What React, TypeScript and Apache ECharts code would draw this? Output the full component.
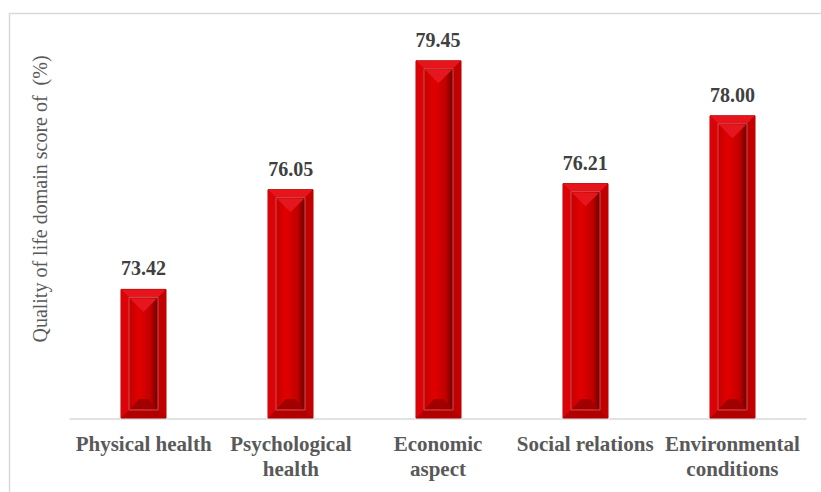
import React, { useEffect, useRef } from "react";
import * as echarts from "echarts";

const categories = [
  "Physical health",
  "Psychological\nhealth",
  "Economic\naspect",
  "Social relations",
  "Environmental\nconditions",
];
const scores = [73.42, 76.05, 79.45, 76.21, 78.0];
const yTitle = "Quality of life domain score of  (%)";
const yMin = 70;
const yMax = 80;

const BAR_W = 45;
const BEVEL = 8;

function renderBevelBar(params: any, api: any) {
  const idx = api.value(0);
  const val = api.value(1);
  const top = api.coord([idx, val]);
  const base = api.coord([idx, yMin]);
  const xc = top[0];
  const x0 = Math.round(xc - BAR_W / 2);
  const x1 = x0 + BAR_W;
  const yT = top[1];
  const yB = base[1] - 1;
  const b = BEVEL;
  const ix0 = x0 + b;
  const ix1 = x1 - b;
  const iyT = yT + b;
  const iyB = yB - b;
  const iw = ix1 - ix0;
  const children: any[] = [
    {
      type: "rect",
      shape: { x: x0, y: yT, width: BAR_W, height: yB - yT },
      style: { fill: "#d00000", stroke: "#a80000", lineWidth: 1 },
    },
    {
      type: "polygon",
      shape: { points: [[x0, yT], [x1, yT], [ix1, iyT], [ix0, iyT]] },
      style: { fill: "#e8141c" },
    },
    {
      type: "polygon",
      shape: { points: [[x0, yT], [ix0, iyT], [ix0, iyB], [x0, yB]] },
      style: { fill: "#dc0308" },
    },
    {
      type: "polygon",
      shape: { points: [[x1, yT], [ix1, iyT], [ix1, iyB], [x1, yB]] },
      style: { fill: "#c20000" },
    },
    {
      type: "polygon",
      shape: { points: [[x0, yB], [ix0, iyB], [ix1, iyB], [x1, yB]] },
      style: { fill: "#b00000" },
    },
    {
      type: "rect",
      shape: { x: ix0, y: iyT, width: iw, height: iyB - iyT },
      style: {
        fill: new echarts.graphic.LinearGradient(0, 0, 1, 0, [
          { offset: 0, color: "#c40000" },
          { offset: 0.35, color: "#e20000" },
          { offset: 0.75, color: "#c00000" },
          { offset: 1, color: "#6a0000" },
        ]),
        stroke: "#c85050",
        lineWidth: 1,
      },
    },
    {
      type: "polygon",
      shape: {
        points: [
          [ix0 + 1, iyT + 1],
          [ix1 - 1, iyT + 1],
          [(ix0 + ix1) / 2, iyT + iw / 2],
        ],
      },
      style: { fill: "#e6161e" },
    },
    {
      type: "polygon",
      shape: {
        points: [
          [ix0 + 1, iyB - 1],
          [ix1 - 1, iyB - 1],
          [ix1 - 10, iyB - 11],
          [ix0 + 10, iyB - 11],
        ],
      },
      style: { fill: "#a00000" },
    },
  ];
  return { type: "group", children };
}

export default function App() {
  const ref = useRef<HTMLDivElement>(null);
  useEffect(() => {
    if (!ref.current) return;
    const chart = echarts.init(ref.current, null, { renderer: "svg" });
    const serif = "'Liberation Serif', 'Times New Roman', serif";
    chart.setOption({
      animation: false,
      backgroundColor: "#ffffff",
      textStyle: { fontFamily: serif },
      grid: { left: 70, right: 15, top: 40, bottom: 73 },
      xAxis: {
        type: "category",
        data: categories,
        axisLine: { show: true, lineStyle: { color: "#d9d9d9", width: 1.5 } },
        axisTick: { show: false },
        axisLabel: {
          interval: 0,
          margin: 12,
          fontFamily: serif,
          fontWeight: "bold",
          fontSize: 21,
          lineHeight: 25,
          color: "#595959",
        },
      },
      yAxis: {
        type: "value",
        min: yMin,
        max: yMax,
        axisLine: { show: false },
        axisTick: { show: false },
        axisLabel: { show: false },
        splitLine: { show: false },
      },
      graphic: [
        {
          type: "rect",
          z: -10,
          shape: { x: 9.5, y: 13.5, width: 900, height: 600 },
          style: { fill: "none", stroke: "#d9d9d9", lineWidth: 1.5 },
          silent: true,
        },
        {
          type: "text",
          x: 40,
          y: 199,
          rotation: Math.PI / 2,
          style: {
            text: yTitle,
            font: `20px ${serif}`,
            fill: "#595959",
            align: "center",
            verticalAlign: "middle",
          },
        },
      ],
      series: [
        {
          type: "bar",
          data: scores,
          barWidth: BAR_W,
          itemStyle: { color: "rgba(0,0,0,0)" },
          label: {
            show: true,
            position: "top",
            distance: 11,
            formatter: (p: any) => Number(p.value).toFixed(2),
            fontFamily: serif,
            fontWeight: "bold",
            fontSize: 20,
            color: "#404040",
          },
          z: 5,
        },
        {
          type: "custom",
          data: scores.map((v, i) => [i, v]),
          encode: { x: 0, y: 1 },
          renderItem: renderBevelBar,
          z: 3,
        },
      ],
    });
    return () => chart.dispose();
  }, []);
  return (
    <div
      ref={ref}
      style={{ position: "fixed", left: 0, top: 0, width: 821, height: 492 }}
    />
  );
}
